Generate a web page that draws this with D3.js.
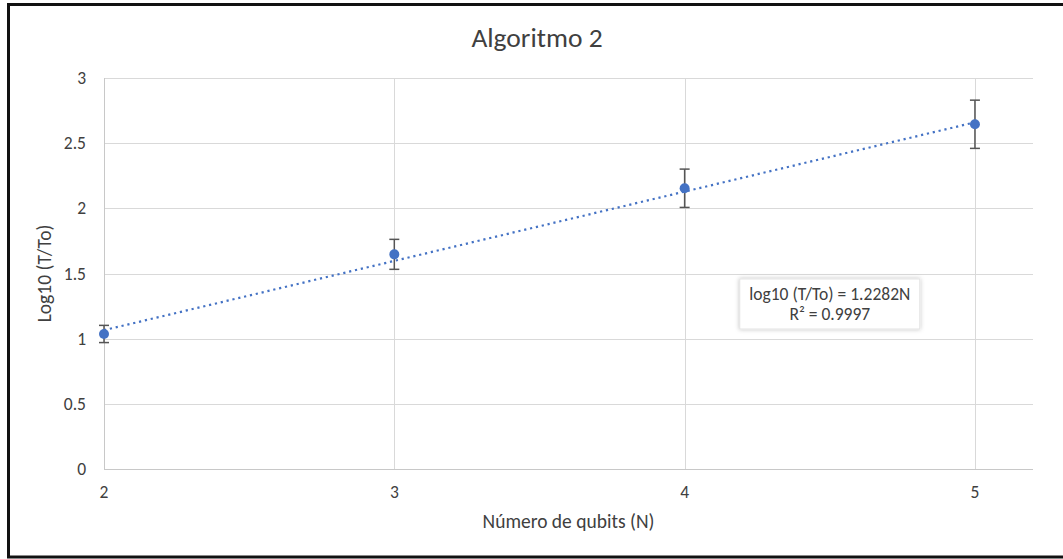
<!DOCTYPE html>
<html>
<head>
<meta charset="utf-8">
<script src="https://cdn.jsdelivr.net/npm/d3@7"></script>
<style>
  body { margin: 0; background: #fff; }
  text { font-family: Carlito, "Liberation Sans", Arial, sans-serif; fill: #404040; }
</style>
</head>
<body>
<svg width="1063" height="559"></svg>
<script>
/* global d3 */

// chart values
const qubits = [2, 3, 4, 5];
const logRatio = [1.036, 1.647, 2.154, 2.645];
const errBars = [0.066, 0.115, 0.147, 0.185];
const xTicks = [2, 3, 4, 5];
const yTicks = [0, 0.5, 1, 1.5, 2, 2.5, 3];
const trendX = [2, 5];
const trendY = [1.065, 2.66];
const labelLines = ["log10 (T/To) = 1.2282N", "R² = 0.9997"];
const labelAnchor = [4.5, 1.266];

const svg = d3.select("svg");

// outer frame
svg
  .append("rect")
  .attr("x", 8.5)
  .attr("y", 4.5)
  .attr("width", 1070)
  .attr("height", 552.5)
  .attr("fill", "none")
  .attr("stroke", "#111")
  .attr("stroke-width", 3);

const x = d3.scaleLinear().domain([2, 5.2]).range([104, 1033]);
const y = d3.scaleLinear().domain([0, 3]).range([469, 78]);

// horizontal gridlines
svg
  .selectAll(".hgrid")
  .data(yTicks)
  .enter()
  .append("line")
  .attr("x1", x(2))
  .attr("x2", x(5.2))
  .attr("y1", d => Math.round(y(d)) + 0.5)
  .attr("y2", d => Math.round(y(d)) + 0.5)
  .attr("stroke", d => (d === 0 ? "#c8c8c8" : "#d9d9d9"))
  .attr("stroke-width", 1);

// vertical gridlines (first one is the axis line)
svg
  .selectAll(".vgrid")
  .data(xTicks)
  .enter()
  .append("line")
  .attr("x1", d => Math.round(x(d)) + 0.5)
  .attr("x2", d => Math.round(x(d)) + 0.5)
  .attr("y1", y(3))
  .attr("y2", y(0))
  .attr("stroke", d => (d === 2 ? "#c8c8c8" : "#d9d9d9"))
  .attr("stroke-width", 1);

// tick labels
svg
  .selectAll(".ylab")
  .data(yTicks)
  .enter()
  .append("text")
  .attr("x", 86)
  .attr("y", d => y(d) + 6)
  .attr("text-anchor", "end")
  .style("font-size", "17.5px")
  .text(d => d);

svg
  .selectAll(".xlab")
  .data(xTicks)
  .enter()
  .append("text")
  .attr("x", d => x(d))
  .attr("y", 498)
  .attr("text-anchor", "middle")
  .style("font-size", "17.5px")
  .text(d => d);

// titles
svg
  .append("text")
  .attr("x", 537)
  .attr("y", 47)
  .attr("text-anchor", "middle")
  .style("font-size", "27.5px")
  .text("Algoritmo 2");

svg
  .append("text")
  .attr("x", (x(2) + x(5.2)) / 2)
  .attr("y", 528)
  .attr("text-anchor", "middle")
  .style("font-size", "19.5px")
  .text("Número de qubits (N)");

svg
  .append("text")
  .attr("transform", "translate(51," + (y(0) + y(3)) / 2 + ") rotate(-90)")
  .attr("text-anchor", "middle")
  .style("font-size", "19.5px")
  .text("Log10 (T/To)");

// trendline
svg
  .append("line")
  .attr("x1", x(trendX[0]))
  .attr("y1", y(trendY[0]))
  .attr("x2", x(trendX[1]))
  .attr("y2", y(trendY[1]))
  .attr("stroke", "#4472c4")
  .attr("stroke-width", 2.2)
  .attr("stroke-dasharray", "2.2 3.8");

// error bars
const pts = qubits.map((q, i) => ({ q: q, v: logRatio[i], e: errBars[i] }));

const err = svg
  .selectAll(".err")
  .data(pts)
  .enter()
  .append("g")
  .attr("stroke", "#555")
  .attr("stroke-width", 1.5);

err
  .append("line")
  .attr("x1", d => x(d.q))
  .attr("x2", d => x(d.q))
  .attr("y1", d => y(d.v + d.e))
  .attr("y2", d => y(d.v - d.e));

err
  .append("line")
  .attr("x1", d => x(d.q) - 5)
  .attr("x2", d => x(d.q) + 5)
  .attr("y1", d => y(d.v + d.e))
  .attr("y2", d => y(d.v + d.e));

err
  .append("line")
  .attr("x1", d => x(d.q) - 5)
  .attr("x2", d => x(d.q) + 5)
  .attr("y1", d => y(d.v - d.e))
  .attr("y2", d => y(d.v - d.e));

// points
svg
  .selectAll(".pt")
  .data(pts)
  .enter()
  .append("circle")
  .attr("cx", d => x(d.q))
  .attr("cy", d => y(d.v))
  .attr("r", 5)
  .attr("fill", "#4472c4");

// trendline label box
const defs = svg.append("defs");
const shadow = defs.append("filter").attr("id", "shadow").attr("x", "-20%").attr("y", "-40%").attr("width", "140%").attr("height", "180%");
shadow.append("feDropShadow").attr("dx", 0).attr("dy", 0).attr("stdDeviation", 2).attr("flood-color", "#000").attr("flood-opacity", 0.25);

const lx = x(labelAnchor[0]);
const ly = y(labelAnchor[1]);
svg
  .append("rect")
  .attr("x", lx - 90)
  .attr("y", ly - 25)
  .attr("width", 180)
  .attr("height", 50)
  .attr("fill", "#fff")
  .attr("stroke", "#e4e4e4")
  .attr("filter", "url(#shadow)");

svg
  .selectAll(".lbl")
  .data(labelLines)
  .enter()
  .append("text")
  .attr("x", lx)
  .attr("y", (d, i) => ly - 4 + i * 20)
  .attr("text-anchor", "middle")
  .style("font-size", "17.5px")
  .text(d => d);
</script>
</body>
</html>
